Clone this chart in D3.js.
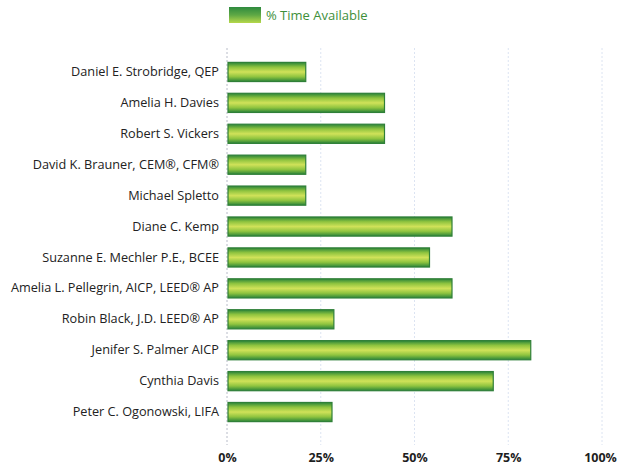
<!DOCTYPE html>
<html><head><meta charset="utf-8">
<script src="https://cdn.jsdelivr.net/npm/d3@7"></script>
<style>body{margin:0;background:#fff}svg{display:block}</style>
</head><body>
<script>
const names = ["Daniel E. Strobridge, QEP","Amelia H. Davies","Robert S. Vickers","David K. Brauner, CEM®, CFM®","Michael Spletto","Diane C. Kemp","Suzanne E. Mechler P.E., BCEE","Amelia L. Pellegrin, AICP, LEED® AP","Robin Black, J.D. LEED® AP","Jenifer S. Palmer AICP","Cynthia Davis","Peter C. Ogonowski, LIFA"];
const timeAvailable = [21, 42, 42, 21, 21, 60, 54, 60, 28.5, 81, 71, 28];
const tickValues = [0, 25, 50, 75, 100];
const seriesName = "% Time Available";

const W = 618, H = 470;
const svg = d3.select("body").append("svg").attr("width", W).attr("height", H);
const defs = svg.append("defs");
const g1 = defs.append("linearGradient").attr("id","barGrad").attr("x1",0).attr("y1",0).attr("x2",0).attr("y2",1);
[[0,"#2a8439"],[0.25,"#8fc43f"],[0.5,"#d0e259"],[0.75,"#8fc43f"],[1,"#2a8439"]].forEach(([o,c])=>g1.append("stop").attr("offset",o).attr("stop-color",c));
const g2 = defs.append("linearGradient").attr("id","legGrad").attr("x1",0).attr("y1",0).attr("x2",0).attr("y2",1);
[[0,"#2e8a3e"],[0.5,"#5ea845"],[1,"#b6d84a"]].forEach(([o,c])=>g2.append("stop").attr("offset",o).attr("stop-color",c));

const x = d3.scaleLinear().domain([0,100]).range([227,602]);
const y = d3.scaleBand().domain(names).range([56.5,427.5]).paddingInner(0.38).paddingOuter(0.19);

// gridlines
svg.append("g").selectAll("line").data(tickValues).join("line")
  .attr("x1",d=>x(d)).attr("x2",d=>x(d)).attr("y1",48).attr("y2",445)
  .attr("stroke",d=>d===0?"#b8bcc8":"#dce4f2").attr("stroke-width",1)
  .attr("stroke-dasharray","2,2");

// bars
svg.append("g").selectAll("rect").data(names).join("rect")
  .attr("x",x(0)+1).attr("y",d=>y(d))
  .attr("width",(d,i)=>x(timeAvailable[i])-x(0)-1).attr("height",y.bandwidth())
  .attr("fill","url(#barGrad)").attr("stroke","#2f7f38").attr("stroke-width",1.2);

// y labels
const yAxis = d3.axisLeft(y).tickSize(0).tickPadding(0);
const ya = svg.append("g").attr("transform",`translate(${x(0)-8},0)`).call(yAxis);
ya.select(".domain").remove();
ya.selectAll("text").attr("font-family","'Open Sans', sans-serif").attr("font-size","12.7px").attr("fill","#222");

// x axis
const xAxis = d3.axisBottom(x).tickValues(tickValues).tickFormat(d=>d+"%").tickSize(0).tickPadding(0);
const xa = svg.append("g").attr("transform","translate(0,453)").call(xAxis);
xa.select(".domain").remove();
xa.selectAll("text").attr("font-family","'Open Sans', sans-serif").attr("font-size","12.5px").attr("font-weight","bold").attr("fill","#1e1e1e");
xa.selectAll(".tick").filter(d=>d===100).select("text").attr("dx","-2");

// legend
const leg = svg.append("g");
leg.append("rect").attr("x",229).attr("y",7).attr("width",32).attr("height",16).attr("fill","url(#legGrad)");
leg.append("text").attr("x",266).attr("y",20).text(seriesName)
  .attr("font-family","'Open Sans', sans-serif").attr("font-size","13px").attr("fill","#3e8f3a");
</script>
</body></html>
